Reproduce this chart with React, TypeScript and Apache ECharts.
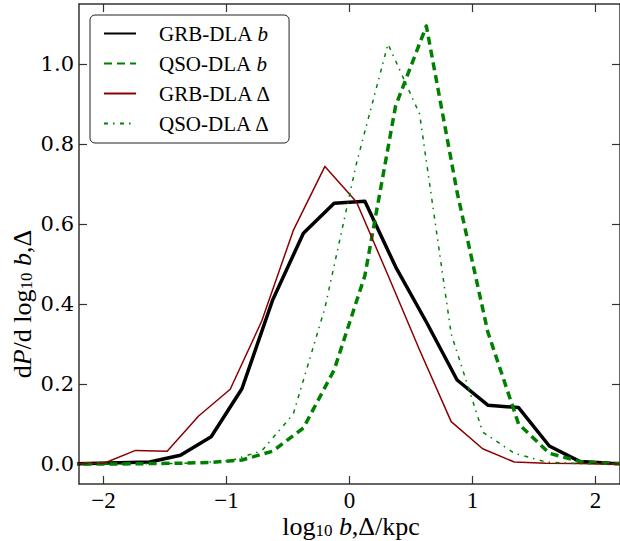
import React, { useEffect, useRef } from "react";
import * as echarts from "echarts";

// x positions (log10 b bins) for the b distributions
const bGrid = [-2.375, -2.125, -1.875, -1.625, -1.375, -1.125, -0.875, -0.625, -0.375, -0.125, 0.125, 0.375, 0.625, 0.875, 1.125, 1.375, 1.625, 1.875, 2.125, 2.375];
const grbB = [0.0, 0.001, 0.003, 0.005, 0.022, 0.068, 0.188, 0.41, 0.577, 0.652, 0.657, 0.493, 0.355, 0.21, 0.147, 0.141, 0.045, 0.006, 0.002, 0.0];
const qsoB = [0.0, 0.0, 0.0, 0.001, 0.002, 0.004, 0.01, 0.032, 0.09, 0.235, 0.471, 0.895, 1.095, 0.68, 0.33, 0.1, 0.027, 0.006, 0.001, 0.0];

// x positions (log10 Delta bins) for the Delta distributions
const dGrid = [-2.253, -1.997, -1.74, -1.483, -1.227, -0.97, -0.713, -0.457, -0.2, 0.057, 0.313, 0.57, 0.827, 1.083, 1.34, 1.597, 1.853, 2.11, 2.367];
const grbD = [0.0, 0.002, 0.034, 0.032, 0.12, 0.187, 0.358, 0.584, 0.744, 0.655, 0.472, 0.285, 0.106, 0.038, 0.005, 0.002, 0.001, 0.0, 0.0];
const qsoD = [0.0, 0.0, 0.0, 0.001, 0.003, 0.008, 0.033, 0.125, 0.39, 0.752, 1.05, 0.875, 0.325, 0.08, 0.027, 0.005, 0.001, 0.0, 0.0];

const seriesNames = ["GRB-DLA b", "QSO-DLA b", "GRB-DLA Δ", "QSO-DLA Δ"];
const xTicks = [-2, -1, 0, 1, 2];
const yTicks = [0, 0.2, 0.4, 0.6, 0.8, 1.0];

const zip = (xs: number[], ys: number[]) => xs.map((x, i) => [x, ys[i]]);

const SERIF = "Liberation Serif";
const TICKFONT = "DejaVu Serif";

export default function App() {
  const ref = useRef<HTMLDivElement>(null);
  useEffect(() => {
    if (!ref.current) return;
    const chart = echarts.init(ref.current, undefined, { renderer: "svg" });
    const axisLine = { show: true, onZero: false, lineStyle: { color: "#333", width: 1.5 } };
    const tickStyle = { color: "#333", width: 1.2 };
    const legendFmt = (name: string) => {
      const parts = name.split(" ");
      const sym = parts[1];
      if (sym === "b") return "{g|}{r|" + parts[0] + " }{i|b}";
      return "{g|}{r|" + parts[0] + " Δ}";
    };
    const titleRich = {
      a: { fontFamily: SERIF, fontSize: 26, lineHeight: 26, fill: "#000" },
      i: { fontFamily: SERIF, fontSize: 26, lineHeight: 26, fontStyle: "italic", fill: "#000" },
      s: { fontFamily: SERIF, fontSize: 17, lineHeight: 12, verticalAlign: "bottom", fill: "#000" },
    };
    const option: any = {
      animation: false,
      grid: { left: 79, top: 4, width: 543, height: 480, containLabel: false },
      xAxis: [
        {
          type: "value", min: -2.2, max: 2.2, position: "bottom",
          axisLine,
          axisTick: { show: true, inside: true, length: 8, customValues: xTicks, lineStyle: tickStyle },
          axisLabel: {
            show: true, customValues: xTicks, margin: 5, color: "#000",
            fontFamily: SERIF, fontSize: 23, lineHeight: 22,
            formatter: (v: number) => (v < 0 ? "\u2212" + Math.abs(v) : String(v)),
          },
          splitLine: { show: false },
        },
        {
          type: "value", min: -2.2, max: 2.2, position: "top",
          axisLine,
          axisTick: { show: true, inside: true, length: 8, customValues: xTicks, lineStyle: tickStyle },
          axisLabel: { show: false },
          splitLine: { show: false },
        },
      ],
      yAxis: [
        {
          type: "value", min: -0.05, max: 1.15, position: "left",
          axisLine,
          axisTick: { show: true, inside: true, length: 8, customValues: yTicks, lineStyle: tickStyle },
          axisLabel: {
            show: true, customValues: yTicks, margin: 5, color: "#000",
            fontFamily: TICKFONT, fontSize: 21,
            formatter: (v: number) => v.toFixed(1),
          },
          splitLine: { show: false },
        },
        {
          type: "value", min: -0.05, max: 1.15, position: "right",
          axisLine,
          axisTick: { show: true, inside: true, length: 8, customValues: yTicks, lineStyle: tickStyle },
          axisLabel: { show: false },
          splitLine: { show: false },
        },
      ],
      legend: {
        show: true, orient: "vertical", left: 90, top: 15,
        padding: [8, 18, 9, 13], itemWidth: 32, itemHeight: 20, itemGap: 9,
        backgroundColor: "#fff", borderColor: "#222", borderWidth: 1, borderRadius: 5,
        itemStyle: { opacity: 0 },
        data: seriesNames,
        formatter: legendFmt,
        textStyle: {
          color: "#000", fontFamily: SERIF, fontSize: 21, lineHeight: 20,
          rich: {
            g: { width: 18 },
            r: { fontFamily: SERIF, fontSize: 21, color: "#000" },
            i: { fontFamily: SERIF, fontSize: 21, fontStyle: "italic", color: "#000" },
          },
        },
      },
      graphic: [
        {
          type: "text", x: 351, y: 526,
          style: {
            text: "{a|log}{s|10}{a| }{i|b}{a|,Δ/kpc}",
            align: "center", verticalAlign: "middle", fill: "#000",
            rich: titleRich,
          },
        },
        {
          type: "text", x: 22, y: 304, rotation: Math.PI / 2,
          style: {
            text: "{a|d}{i|P}{a|/d log}{s|10}{a| }{i|b}{a|,Δ}",
            align: "center", verticalAlign: "middle", fill: "#000",
            rich: titleRich,
          },
        },
      ],
      series: [
        {
          name: seriesNames[0], type: "line", data: zip(bGrid, grbB), symbol: "none",
          xAxisIndex: 0, yAxisIndex: 0, clip: true,
          itemStyle: { color: "#000000" },
          lineStyle: { color: "#000000", width: 3.5, type: "solid", join: "round", cap: "butt" },
        },
        {
          name: seriesNames[1], type: "line", data: zip(bGrid, qsoB), symbol: "none",
          xAxisIndex: 0, yAxisIndex: 0, clip: true,
          itemStyle: { color: "#008000" },
          lineStyle: { color: "#008000", width: 3.5, type: [8, 5], join: "round", cap: "butt" },
        },
        {
          name: seriesNames[2], type: "line", data: zip(dGrid, grbD), symbol: "none",
          xAxisIndex: 0, yAxisIndex: 0, clip: true,
          itemStyle: { color: "#8b0000" },
          lineStyle: { color: "#8b0000", width: 1.5, type: "solid", join: "round", cap: "butt" },
        },
        {
          name: seriesNames[3], type: "line", data: zip(dGrid, qsoD), symbol: "none",
          xAxisIndex: 0, yAxisIndex: 0, clip: true,
          itemStyle: { color: "#008000" },
          lineStyle: { color: "#008000", width: 1.5, type: [4, 5, 1.5, 5.5], join: "round", cap: "butt" },
        },
      ],
    };
    chart.setOption(option);
    return () => chart.dispose();
  }, []);
  return (
    <div
      ref={ref}
      style={{ position: "fixed", left: 0, top: 0, width: 620, height: 541, background: "#fff" }}
    />
  );
}
